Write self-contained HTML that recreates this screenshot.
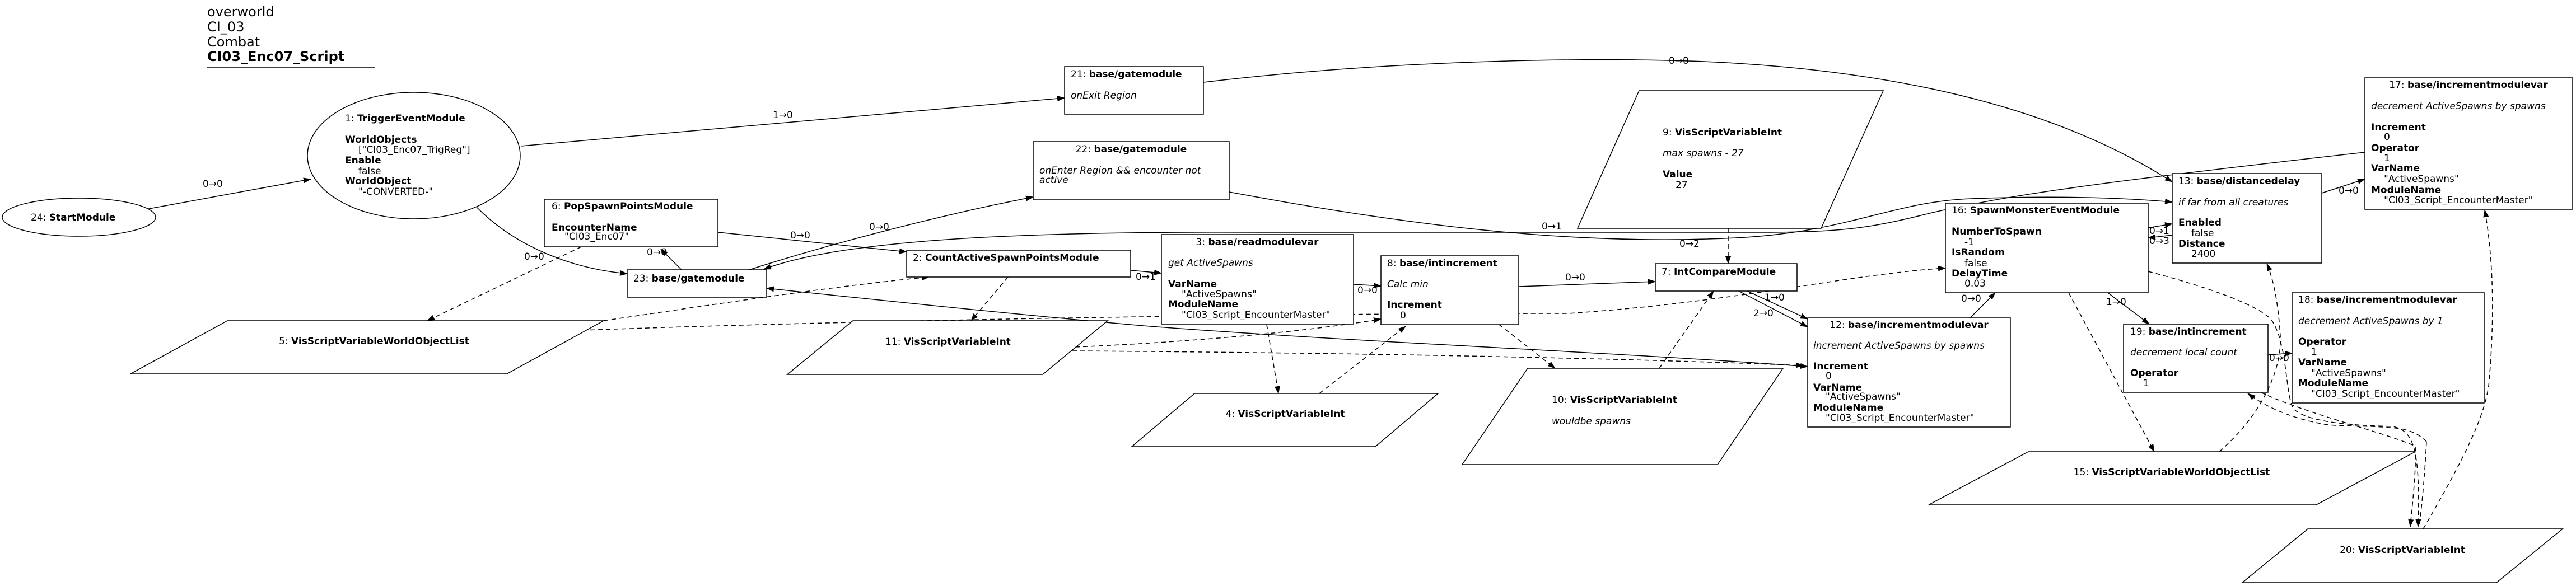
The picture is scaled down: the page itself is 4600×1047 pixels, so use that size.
<!DOCTYPE html>
<html><head><meta charset="utf-8"><style>
html,body{margin:0;padding:0;background:#fff;}
svg{display:block;font-family:"DejaVu Sans","Liberation Sans",sans-serif;}
text{font-size:17px;fill:#000;}
.b{font-weight:bold;}
.i{font-style:italic;}
.n{fill:#fff;stroke:#000;stroke-width:1.5;}
.e{fill:none;stroke:#000;stroke-width:1.5;}
.d{fill:none;stroke:#000;stroke-width:1.5;stroke-dasharray:8,6;}
</style></head><body>
<svg width="4600" height="1047" viewBox="0 0 4600 1047" xmlns="http://www.w3.org/2000/svg">
<defs><marker id="a" markerWidth="14" markerHeight="10" refX="13" refY="5" orient="auto" markerUnits="userSpaceOnUse"><path d="M0,0 L14,5 L0,10 z" fill="#000"/></marker>
<marker id="s" markerWidth="14" markerHeight="10" refX="1" refY="5" orient="auto" markerUnits="userSpaceOnUse"><path d="M14,0 L0,5 L14,10 z" fill="#000"/></marker></defs>

<text x="370" y="29" style="font-size:24px">overworld</text>
<text x="370" y="56" style="font-size:24px">CI_03</text>
<text x="370" y="83" style="font-size:24px">Combat</text>
<text x="370" y="109" class="b" style="font-size:24px">CI03_Enc07_Script</text>
<line x1="370" y1="121" x2="669" y2="121" stroke="#000" stroke-width="1.5"/>

<path class="e" d="M255,375 L555,320" marker-end="url(#a)"/>
<text x="362" y="334">0→0</text>
<path class="e" d="M930,261 C1300,228 1600,200 1901,175" marker-end="url(#a)"/>
<text x="1380" y="211">1→0</text>
<path class="e" d="M851,370 C920,440 1020,480 1120,489" marker-end="url(#a)"/>
<text x="936" y="464">0→0</text>
<path class="e" d="M1217,482 L1180,445" marker-end="url(#a)"/>
<text x="1155" y="456">0→0</text>
<path class="e" d="M1338,482 C1500,430 1700,380 1845,352" marker-end="url(#a)"/>
<text x="1552" y="411">0→0</text>
<path class="e" d="M1282,415 L1619,450" marker-end="url(#a)"/>
<text x="1411" y="426">0→0</text>
<path class="e" d="M2019,483 L2074,488" marker-end="url(#a)"/>
<text x="2028" y="500">0→1</text>
<path class="e" d="M2417,508 L2466,511" marker-end="url(#a)"/>
<text x="2424" y="524">0→0</text>
<path class="e" d="M2712,512 L2956,503" marker-end="url(#a)"/>
<text x="2795" y="501">0→0</text>
<path class="e" d="M3120,520 L3228,570" marker-end="url(#a)"/>
<text x="3151" y="537">1→0</text>
<path class="e" d="M3105,520 L3228,584" marker-end="url(#a)"/>
<text x="3131" y="565">2→0</text>
<path class="e" d="M3518,568 L3563,523" marker-end="url(#a)"/>
<text x="3502" y="539">0→0</text>
<path class="e" d="M3836,407 L3879,400" marker-end="url(#a)"/>
<path class="e" d="M3879,420 L3836,425" marker-end="url(#a)"/>
<text x="3838" y="418">0→1</text>
<text x="3838" y="436">0→3</text>
<path class="e" d="M3764,523 L3838,579" marker-end="url(#a)"/>
<text x="3761" y="545">1→0</text>
<path class="e" d="M4050,634 L4093,631" marker-end="url(#a)"/>
<text x="4052" y="645">0→0</text>
<path class="e" d="M4146,345 L4223,320" marker-end="url(#a)"/>
<text x="4176" y="346">0→0</text>
<path class="e" d="M2149,147 C2500,105 2900,100 3100,113 C3450,135 3700,210 3879,325" marker-end="url(#a)"/>
<text x="2980" y="114">0→0</text>
<path class="e" d="M2195,343 C2500,400 2800,440 3100,425 C3300,415 3380,360 3520,355 C3650,350 3780,352 3879,361" marker-end="url(#a)"/>
<text x="2999" y="441">0→2</text>
<path class="e" d="M4223,272 C3800,320 3600,345 3450,380 C3350,405 3300,415 3150,415 L2250,415 C1800,413 1500,430 1364,481" marker-end="url(#a)"/>
<text x="2753" y="410">0→1</text>
<path class="e" d="M1369,515 C1700,550 1900,570 2054,583 C2400,610 2900,630 3228,655" marker-start="url(#s)" marker-end="url(#a)"/>

<path class="d" d="M1038,441 L763,573" marker-end="url(#a)"/>
<path class="d" d="M1078,573 C1300,540 1500,510 1659,495" marker-end="url(#a)"/>
<path class="d" d="M1040,590 C1600,570 2300,560 2800,560 C3100,540 3300,490 3474,479" marker-end="url(#a)"/>
<path class="d" d="M1800,495 L1734,573" marker-end="url(#a)"/>
<path class="d" d="M1920,620 C2150,610 2350,590 2466,570" marker-end="url(#a)"/>
<path class="d" d="M1915,627 C2400,630 2900,640 3220,653" marker-end="url(#a)"/>
<path class="d" d="M2262,580 L2283,703" marker-end="url(#a)"/>
<path class="d" d="M2356,703 L2510,583" marker-end="url(#a)"/>
<path class="d" d="M2677,580 L2777,658" marker-end="url(#a)"/>
<path class="d" d="M2963,658 L3060,520" marker-end="url(#a)"/>
<path class="d" d="M3086,408 L3086,471" marker-end="url(#a)"/>
<path class="d" d="M3694,523 L3847,807" marker-end="url(#a)"/>
<path class="d" d="M3963,807 C4040,740 4075,660 4072,600 C4068,540 4060,500 4048,471" marker-end="url(#a)"/>
<path class="d" d="M3836,485 C3950,515 4030,545 4055,570 C4085,610 4080,700 4095,730 C4120,755 4200,760 4273,762 C4310,770 4322,800 4318,941" marker-end="url(#a)"/>
<path class="d" d="M4333,789 C4320,775 4300,768 4287,766 C4240,760 4190,762 4157,759 C4100,750 4050,730 4014,703" marker-end="url(#a)"/>
<path class="d" d="M4333,789 C4330,850 4325,900 4320,941"/>
<path class="d" d="M4037,701 C4120,740 4250,770 4313,797 C4315,840 4308,900 4304,941" marker-end="url(#a)"/>
<path class="d" d="M4327,945 C4400,820 4440,740 4445,680 C4455,560 4452,460 4437,375" marker-end="url(#a)"/>

<ellipse class="n" cx="141" cy="388" rx="137" ry="34"/>
<text x="55" y="394">24: <tspan class="b">StartModule</tspan></text>

<ellipse class="n" cx="739" cy="278" rx="190" ry="113"/>
<text x="616" y="217">1: <tspan class="b">TriggerEventModule</tspan></text>
<text x="616" y="255" class="b">WorldObjects</text>
<text x="640" y="273">["CI03_Enc07_TrigReg"]</text>
<text x="616" y="292" class="b">Enable</text>
<text x="640" y="311">false</text>
<text x="616" y="329" class="b">WorldObject</text>
<text x="640" y="348">"-CONVERTED-"</text>

<rect class="n" x="972" y="356" width="310" height="85"/>
<text x="985" y="374">6: <tspan class="b">PopSpawnPointsModule</tspan></text>
<text x="985" y="412" class="b">EncounterName</text>
<text x="1008" y="428">"CI03_Enc07"</text>

<rect class="n" x="1120" y="482" width="249" height="49"/>
<text x="1131" y="503">23: <tspan class="b">base/gatemodule</tspan></text>

<rect class="n" x="1901" y="119" width="248" height="85"/>
<text x="1912" y="138">21: <tspan class="b">base/gatemodule</tspan></text>
<text x="1912" y="176" class="i">onExit Region</text>

<rect class="n" x="1845" y="253" width="350" height="104"/>
<text x="2020" y="272" text-anchor="middle">22: <tspan class="b">base/gatemodule</tspan></text>
<text x="1856" y="310" class="i">onEnter Region &amp;&amp; encounter not</text>
<text x="1856" y="327" class="i">active</text>

<rect class="n" x="1619" y="447" width="400" height="48"/>
<text x="1630" y="466">2: <tspan class="b">CountActiveSpawnPointsModule</tspan></text>

<rect class="n" x="2074" y="419" width="343" height="160"/>
<text x="2245" y="438" text-anchor="middle">3: <tspan class="b">base/readmodulevar</tspan></text>
<text x="2086" y="475" class="i">get ActiveSpawns</text>
<text x="2086" y="513" class="b">VarName</text>
<text x="2110" y="531">"ActiveSpawns"</text>
<text x="2086" y="549" class="b">ModuleName</text>
<text x="2110" y="568">"CI03_Script_EncounterMaster"</text>

<rect class="n" x="2466" y="457" width="246" height="123"/>
<text x="2477" y="476">8: <tspan class="b">base/intincrement</tspan></text>
<text x="2477" y="513" class="i">Calc min</text>
<text x="2477" y="550" class="b">Increment</text>
<text x="2500" y="569">0</text>

<rect class="n" x="2956" y="471" width="253" height="49"/>
<text x="2967" y="491">7: <tspan class="b">IntCompareModule</tspan></text>

<rect class="n" x="3228" y="568" width="362" height="195"/>
<text x="3409" y="586" text-anchor="middle">12: <tspan class="b">base/incrementmodulevar</tspan></text>
<text x="3238" y="623" class="i">increment ActiveSpawns by spawns</text>
<text x="3238" y="660" class="b">Increment</text>
<text x="3260" y="677">0</text>
<text x="3238" y="698" class="b">VarName</text>
<text x="3260" y="714">"ActiveSpawns"</text>
<text x="3238" y="734" class="b">ModuleName</text>
<text x="3260" y="752">"CI03_Script_EncounterMaster"</text>

<rect class="n" x="3474" y="363" width="362" height="160"/>
<text x="3485" y="381">16: <tspan class="b">SpawnMonsterEventModule</tspan></text>
<text x="3485" y="419" class="b">NumberToSpawn</text>
<text x="3508" y="438">-1</text>
<text x="3485" y="456" class="b">IsRandom</text>
<text x="3508" y="476">false</text>
<text x="3485" y="494" class="b">DelayTime</text>
<text x="3508" y="512">0.03</text>

<rect class="n" x="3879" y="310" width="267" height="160"/>
<text x="3890" y="329">13: <tspan class="b">base/distancedelay</tspan></text>
<text x="3890" y="367" class="i">if far from all creatures</text>
<text x="3890" y="403" class="b">Enabled</text>
<text x="3913" y="422">false</text>
<text x="3890" y="441" class="b">Distance</text>
<text x="3913" y="459">2400</text>

<rect class="n" x="4223" y="139" width="371" height="235"/>
<text x="4408" y="157" text-anchor="middle">17: <tspan class="b">base/incrementmodulevar</tspan></text>
<text x="4234" y="195" class="i">decrement ActiveSpawns by spawns</text>
<text x="4234" y="233" class="b">Increment</text>
<text x="4257" y="250">0</text>
<text x="4234" y="270" class="b">Operator</text>
<text x="4257" y="288">1</text>
<text x="4234" y="306" class="b">VarName</text>
<text x="4257" y="325">"ActiveSpawns"</text>
<text x="4234" y="345" class="b">ModuleName</text>
<text x="4257" y="363">"CI03_Script_EncounterMaster"</text>

<rect class="n" x="3792" y="579" width="258" height="122"/>
<text x="3804" y="598">19: <tspan class="b">base/intincrement</tspan></text>
<text x="3804" y="635" class="i">decrement local count</text>
<text x="3804" y="672" class="b">Operator</text>
<text x="3827" y="690">1</text>

<rect class="n" x="4093" y="523" width="343" height="197"/>
<text x="4104" y="541">18: <tspan class="b">base/incrementmodulevar</tspan></text>
<text x="4104" y="579" class="i">decrement ActiveSpawns by 1</text>
<text x="4104" y="616" class="b">Operator</text>
<text x="4127" y="634">1</text>
<text x="4104" y="653" class="b">VarName</text>
<text x="4127" y="672">"ActiveSpawns"</text>
<text x="4104" y="690" class="b">ModuleName</text>
<text x="4127" y="709">"CI03_Script_EncounterMaster"</text>

<polygon class="n" points="406,573 1078,573 905,668 233,668"/>
<text x="668" y="615" text-anchor="middle">5: <tspan class="b">VisScriptVariableWorldObjectList</tspan></text>

<polygon class="n" points="1523,573 1978,573 1862,669 1406,669"/>
<text x="1693" y="616" text-anchor="middle">11: <tspan class="b">VisScriptVariableInt</tspan></text>

<polygon class="n" points="2133,703 2568,703 2456,798 2021,798"/>
<text x="2295" y="745" text-anchor="middle">4: <tspan class="b">VisScriptVariableInt</tspan></text>

<polygon class="n" points="2927,162 3363,162 3252,408 2817,408"/>
<text x="2969" y="242">9: <tspan class="b">VisScriptVariableInt</tspan></text>
<text x="2969" y="279" class="i">max spawns - 27</text>
<text x="2969" y="317" class="b">Value</text>
<text x="2992" y="336">27</text>

<polygon class="n" points="2728,658 3184,658 3067,830 2611,830"/>
<text x="2771" y="720">10: <tspan class="b">VisScriptVariableInt</tspan></text>
<text x="2771" y="758" class="i">wouldbe spawns</text>

<polygon class="n" points="3622,807 4313,807 4136,902 3444,902"/>
<text x="3878" y="849" text-anchor="middle">15: <tspan class="b">VisScriptVariableWorldObjectList</tspan></text>

<polygon class="n" points="4121,945 4576,945 4458,1041 4004,1041"/>
<text x="4290" y="988" text-anchor="middle">20: <tspan class="b">VisScriptVariableInt</tspan></text>
</svg>
</body></html>
